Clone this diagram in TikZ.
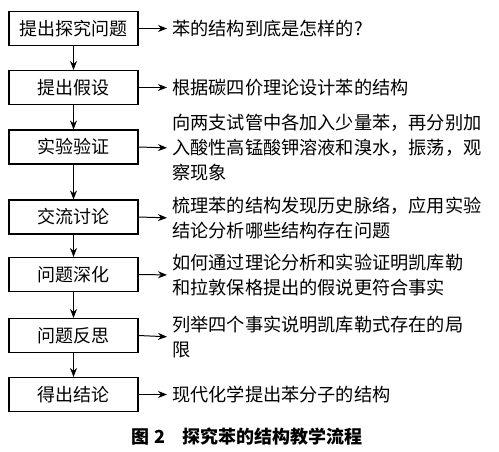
\documentclass[tikz,border=0pt]{standalone}
\usepackage{fontspec}
\setmainfont{Noto Sans CJK SC}
\usetikzlibrary{arrows.meta}
\begin{document}
\begin{tikzpicture}[x=1pt,y=-1pt,
  stepbox/.style={draw,line width=1.1pt,minimum width=129pt,minimum height=34pt,inner sep=0pt,font=\fontsize{18}{25}\selectfont},
  desc/.style={anchor=west,align=left,inner sep=0pt,font=\fontsize{18.2}{25}\selectfont},
  arr/.style={line width=1pt,-{Stealth[length=9pt,width=7pt]}}]
\useasboundingbox (0,0) rectangle (499,452);
\node[stepbox] (b1) at (73.5,28.5) {提出探究问题};
\node[stepbox] (b2) at (73.5,87.5) {提出假设};
\node[stepbox] (b3) at (73.5,147) {实验验证};
\node[stepbox] (b4) at (73.5,217) {交流讨论};
\node[stepbox] (b5) at (73.5,274.5) {问题深化};
\node[stepbox] (b6) at (73.5,335.5) {问题反思};
\node[stepbox] (b7) at (73.5,394.5) {得出结论};
\node[desc] (t1) at (172,28.5) {苯的结构到底是怎样的?};
\node[desc] (t2) at (172,87.5) {根据碳四价理论设计苯的结构};
\node[desc] (t3) at (172,148) {向两支试管中各加入少量苯，再分别加\\入酸性高锰酸钾溶液和溴水，振荡，观\\察现象};
\node[desc] (t4) at (172,218) {梳理苯的结构发现历史脉络，应用实验\\结论分析哪些结构存在问题};
\node[desc] (t5) at (172,275) {如何通过理论分析和实验证明凯库勒\\和拉敦保格提出的假说更符合事实};
\node[desc] (t6) at (172,337) {列举四个事实说明凯库勒式存在的局\\限};
\node[desc] (t7) at (172,394.5) {现代化学提出苯分子的结构};
\foreach \i in {1,...,7}{\draw[arr,shorten >=5pt] (b\i.east) -- (t\i.west);}
\foreach \i/\j in {1/2,2/3,3/4,4/5,5/6,6/7}{\draw[arr] (b\i.south) -- (b\j.north);}
\node[inner sep=0pt,font=\fontsize{18}{20}\selectfont\bfseries] (cap) at (247,437) {图\;2\quad 探究苯的结构教学流程};
\end{tikzpicture}
\end{document}
